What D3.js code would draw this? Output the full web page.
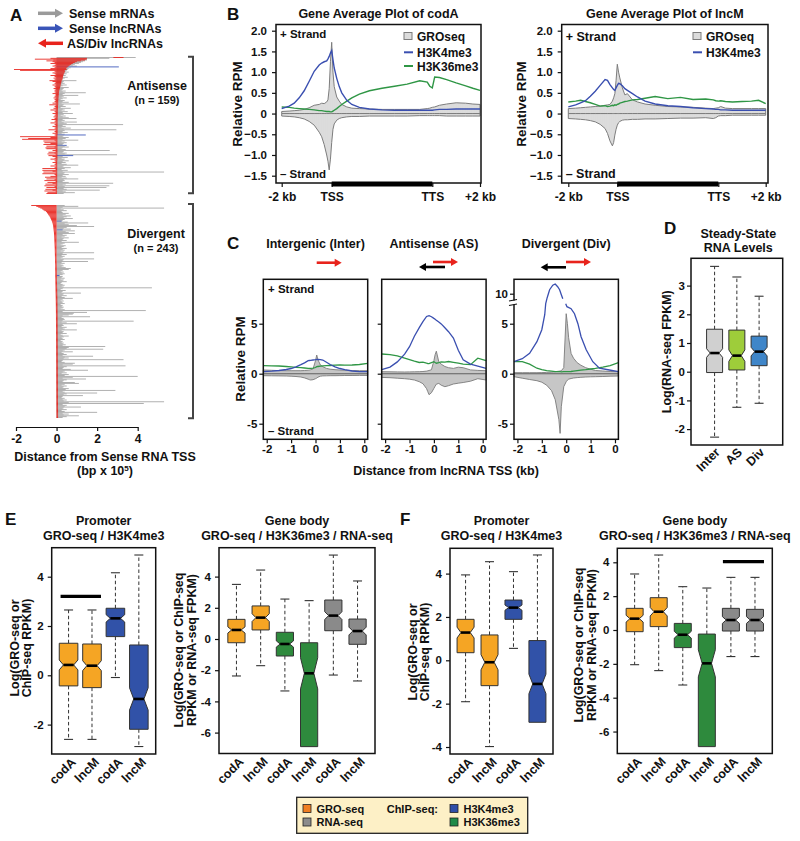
<!DOCTYPE html>
<html>
<head>
<meta charset="utf-8">
<script src="https://cdn.jsdelivr.net/npm/d3@7"></script>
<style>
body{margin:0;background:#fff}
text{font-family:"Liberation Sans",Arial,sans-serif;font-weight:bold;fill:#111}
</style>
</head>
<body>
<script>
// ---------- panel A data (x in bp x 10^5) ----------
var asSense = [3.9,2.6,1.5,1.5,1.4,1.3,1.2,1.1,0.9,0.8,
1.0,3.07,0.7,0.6,0.55,0.5,0.45,0.6,0.4,0.5,
0.35,0.45,0.3,0.55,0.4,0.3,0.25,0.98,0.35,0.3,
0.4,0.25,0.5,0.3,0.2,0.6,0.35,0.3,0.25,0.45,
0.3,1.44,0.4,0.3,1.07,0.35,0.25,0.5,0.3,0.2,
0.4,0.3,0.6,0.25,1.15,0.35,0.3,0.45,0.2,0.7,
0.3,0.4,0.25,0.55,0.3,0.8,0.35,0.2,0.45,0.3,
0.6,0.98,0.3,0.4,0.25,1.0,0.35,0.5,3.28,0.3,
0.45,0.25,0.7,0.35,2.95,0.4,0.3,0.55,0.25,0.4,
1.44,0.35,0.3,0.6,0.45,0.3,1.07,0.4,0.25,0.5,
0.35,0.3,0.5,0.4,0.6,0.3,0.25,0.45,2.62,0.35,
0.3,0.5,0.4,2.98,0.82,0.3,0.55,0.25,0.4,0.35,
0.6,0.3,0.45,0.25,0.5,1.07,0.35,0.3,0.7,0.4,
0.25,0.55,0.3,5.3,0.4,0.35,0.6,0.3,0.45,0.25,
0.5,1.07,0.35,0.4,0.3,0.6,2.79,0.45,0.3,2.6,
0.4,2.46,0.35,0.5,2.13,0.3,0.45,0.9,0.35];
var asBlueRows = [11,90,102,114];
var asRedR = [3.3,1.5,1.48,1.4,1.2,1.0,0.9,0.8,0.72,0.65,
0.6,0.55,0.5,0.47,0.5,0.4,0.42,0.4,0.38,0.36,
0.34,0.33,0.32,0.31,0.3,0.29,0.28,0.25,0.24,0.23,
0.22,0.21,0.2,0.19,0.18,0.17,0.16,0.15,0.13,0.13,
0.12,0.12,0.11,0.11,0.1,0.1,0.1,0.09,0.09,0.09,
0.08,0.08,0.08,0.08,0.08,0.08,0.07,0.07,0.07,0.07,
0.07,0.07,0.06,0.06,0.06,0.06,0.06,0.06,0.06,0.06,
0.05,0.05,0.05,0.05,0.05,0.05,0.05,0.05,0.05,0.05,
0.05,0.05,0.05,0.05,0.05,0.05,0.05,0.05,0.05,0.05,
0.04,0.04,0.04,0.04,0.04,0.04,0.04,0.04,0.04,0.04,
0.04,0.04,0.04,0.04,0.04,0.04,0.04,0.04,0.04,0.04,
0.04,0.04,0.04,0.04,0.04,0.04,0.04,0.04,0.04,0.04,
0.03,0.03,0.03,0.03,0.03,0.03,0.03,0.03,0.03,0.03,
0.03,0.03,0.03,0.03,0.03,0.03,0.03,0.03,0.03,0.03,
0.03,0.03,0.03,0.03,0.03,0.03,0.03,0.03,0.03,0.03,
0.02,0.02,0.02,0.02,0.02,0.02,0.02,0.02,0.02];
var asRedL = [2.8,-0.3,-1.07,-0.16,-0.5,-0.2,-0.1,-0.3,-0.05,-0.1,
-0.2,-0.05,-0.1,-0.3,-2.1,-1.8,-0.1,-0.05,-0.2,-0.1,
-0.05,-0.3,-0.1,-0.05,-0.15,-0.05,-0.1,-0.35,-0.2,-0.05,
-0.1,-0.05,-0.2,-0.05,-0.1,-0.05,-0.15,-0.05,-0.1,-0.05,
-0.1,-0.05,-0.2,-0.05,-0.05,-0.1,-0.05,-0.15,-0.05,-0.1,
-0.05,-0.1,-0.05,-0.2,-0.05,-0.36,-0.05,-0.1,-0.05,-0.15,
-0.05,-0.3,-0.05,-0.1,-0.05,-0.2,-0.05,-0.1,-0.05,-0.15,
-0.05,-0.1,-0.25,-0.05,-0.1,-0.05,-0.3,-0.05,-0.1,-0.05,
-0.2,-0.05,-0.1,-0.05,-0.4,-0.05,-0.1,-0.05,-0.2,-0.05,
-0.1,-0.05,-1.8,-0.3,-1.4,-1.7,-0.1,-0.65,-0.05,-0.6,
-0.3,-0.65,-0.05,-0.5,-0.1,-0.55,-0.5,-0.05,-0.2,-0.05,
-0.4,-0.1,-0.45,-0.05,-0.4,-0.2,-0.05,-0.1,-0.3,-0.05,
-0.1,-0.05,-0.2,-0.05,-0.1,-0.05,-0.3,-0.05,-0.1,-0.7,
-0.05,-0.7,-0.2,-0.65,-0.05,-0.7,-0.1,-0.05,-0.3,-0.57,
-0.05,-0.5,-0.1,-0.6,-0.05,-0.45,-0.2,-0.55,-0.05,-0.6,
-0.1,-0.5,-0.05,-0.55,-0.2,-0.6,-0.05,-0.45,-0.5];

var divSense = [0.4,1.07,0.3,5.3,0.2,0.35,0.5,0.25,0.3,0.6,
0.45,0.3,0.7,0.5,0.35,0.8,0.4,0.3,0.25,0.55,
1.56,0.4,0.6,1.0,1.85,0.5,0.35,0.7,0.3,0.9,
0.45,0.6,0.9,0.3,0.5,0.4,0.25,0.6,0.35,0.3,
0.5,0.25,1.1,0.4,0.3,0.2,0.45,0.35,0.25,0.5,
0.3,0.4,0.2,0.35,1.85,0.3,0.5,0.25,0.4,0.3,
0.2,1.85,0.35,0.3,1.55,0.25,0.4,0.2,0.3,0.35,
0.25,0.45,0.7,0.6,0.3,0.2,0.35,0.25,0.4,0.3,
0.15,0.3,0.25,0.4,0.2,0.35,0.3,0.5,0.25,0.2,
0.3,0.4,0.25,0.35,4.7,0.3,0.2,0.45,0.3,0.25,
1.2,0.35,0.3,0.5,0.25,0.4,0.8,0.3,0.2,0.35,
0.25,0.3,0.4,0.2,0.3,0.25,0.35,0.3,0.2,0.4,
4.4,0.3,1.5,0.85,0.8,0.6,0.3,1.65,0.25,0.35,
0.4,0.3,3.8,0.25,0.5,1.0,0.3,0.35,0.25,0.5,
0.3,0.4,1.0,0.25,0.35,0.3,0.5,0.2,0.3,0.6,
0.35,0.25,0.3,0.4,0.2,0.3,0.25,0.35,0.3,0.45,
0.3,2.4,0.6,0.5,2.3,0.4,0.3,0.8,0.25,0.35,
0.5,0.3,1.8,0.4,0.6,0.35,3.3,0.3,0.25,0.4,
0.9,0.8,0.3,3.4,0.5,0.35,0.3,0.7,1.55,0.4,
0.3,0.5,0.25,0.6,0.4,4.0,0.8,0.3,1.45,0.5,
0.35,0.3,0.9,1.1,0.4,0.25,0.5,0.35,0.3,0.6,
0.45,2.9,0.3,0.4,2.0,0.5,0.35,1.3,0.3,0.25,
0.4,0.3,0.5,0.35,5.3,0.6,4.3,0.3,0.5,0.4,
1.2,0.35,0.3,0.5,0.25,0.4,2.0,0.3,0.6,0.35,
1.1,0.5,0.3];
var divBlueRows = [18,28,80];
var divRed = [-1.25,-1.0,-0.9,-0.8,-0.72,-0.66,-0.6,-0.52,-0.48,-0.45,
-0.42,-0.39,-0.36,-0.33,-0.31,-0.29,-0.27,-0.25,-0.23,-0.22,
-0.2,-0.19,-0.18,-0.17,-0.165,-0.16,-0.155,-0.15,-0.145,-0.14,
-0.135,-0.13,-0.128,-0.125,-0.122,-0.12,-0.118,-0.115,-0.112,-0.11,
-0.108,-0.106,-0.104,-0.102,-0.1,-0.098,-0.096,-0.094,-0.092,-0.09,
-0.089,-0.088,-0.087,-0.086,-0.085,-0.084,-0.083,-0.082,-0.081,-0.08,
-0.079,-0.078,-0.077,-0.076,-0.075,-0.074,-0.073,-0.072,-0.071,-0.07,
-0.07,-0.069,-0.069,-0.068,-0.068,-0.067,-0.067,-0.066,-0.066,-0.065,
-0.065,-0.064,-0.063,-0.062,-0.061,-0.06,-0.06,-0.059,-0.058,-0.057,
-0.056,-0.055,-0.054,-0.053,-0.052,-0.051,-0.05,-0.05,-0.049,-0.048,
-0.047,-0.046,-0.045,-0.044,-0.043,-0.042,-0.041,-0.04,-0.04,-0.039,
-0.038,-0.038,-0.037,-0.036,-0.036,-0.035,-0.035,-0.034,-0.034,-0.033,
-0.033,-0.032,-0.032,-0.031,-0.031,-0.031,-0.03,-0.03,-0.03,-0.03,
-0.03,-0.029,-0.029,-0.029,-0.028,-0.028,-0.028,-0.027,-0.027,-0.027,
-0.026,-0.026,-0.026,-0.025,-0.025,-0.025,-0.025,-0.024,-0.024,-0.024,
-0.024,-0.023,-0.023,-0.023,-0.023,-0.022,-0.022,-0.022,-0.022,-0.021,
-0.021,-0.021,-0.021,-0.02,-0.02,-0.02,-0.02,-0.02,-0.019,-0.019,
-0.019,-0.019,-0.019,-0.018,-0.018,-0.018,-0.018,-0.018,-0.017,-0.017,
-0.017,-0.017,-0.017,-0.016,-0.016,-0.016,-0.016,-0.016,-0.015,-0.015,
-0.015,-0.015,-0.015,-0.014,-0.014,-0.014,-0.014,-0.014,-0.013,-0.013,
-0.013,-0.013,-0.013,-0.012,-0.012,-0.012,-0.012,-0.012,-0.011,-0.011,
-0.011,-0.011,-0.011,-0.01,-0.01,-0.01,-0.01,-0.01,-0.01,-0.01,
-0.009,-0.009,-0.009,-0.009,-0.009,-0.008,-0.008,-0.008,-0.008,-0.008,
-0.007,-0.007,-0.007,-0.007,-0.007,-0.006,-0.006,-0.006,-0.006,-0.006,
-0.005,-0.005,-0.005];
var aTicks = [-2,0,2,4];

// ---------- panel B data (bins: 0-20 upstream, 20-60 gene body, 60-80 downstream) ----------
var bPos = [0,3,5,7,9,11,13,15,16,17,18,18.5,19,19.5,20,20.5,21,22,23,24,26,28,31,35,40,45,50,55,58,59,60,61,63,66,70,74,77,80];
var bTickLabels = ['-2 kb','TSS','TTS','+2 kb'];
var bYTicks = [-1.5,-1,-0.5,0,0.5,1,1.5,2];
var codaGroP = [0.05,0.06,0.07,0.08,0.1,0.14,0.2,0.22,0.25,0.24,0.28,0.33,0.6,1.25,1.72,1.0,0.65,0.4,0.3,0.22,0.16,0.13,0.12,0.11,0.1,0.1,0.1,0.1,0.12,0.13,0.15,0.16,0.2,0.23,0.26,0.25,0.23,0.22];
var codaGroM = [-0.06,-0.07,-0.08,-0.1,-0.13,-0.19,-0.28,-0.45,-0.56,-0.75,-1.0,-1.15,-1.36,-1.1,-0.7,-0.38,-0.25,-0.16,-0.12,-0.1,-0.08,-0.07,-0.07,-0.06,-0.06,-0.06,-0.06,-0.05,-0.05,-0.05,-0.05,-0.05,-0.05,-0.06,-0.06,-0.06,-0.06,-0.06];
var codaK4 = [0.12,0.18,0.25,0.38,0.55,0.78,1.02,1.17,1.22,1.25,1.27,1.32,1.38,1.46,1.52,1.3,1.1,0.85,0.65,0.5,0.32,0.22,0.15,0.11,0.09,0.08,0.08,0.08,0.08,0.08,0.08,0.09,0.1,0.1,0.11,0.11,0.11,0.11];
var codaK36 = [0.16,0.15,0.13,0.12,0.11,0.1,0.09,0.07,0.07,0.06,0.05,0.05,0.05,0.04,0.04,0.06,0.08,0.12,0.17,0.22,0.3,0.38,0.47,0.55,0.61,0.66,0.71,0.79,0.76,0.66,0.62,0.88,0.87,0.82,0.74,0.67,0.61,0.56];
var lncmGroP = [0.12,0.13,0.14,0.15,0.16,0.17,0.18,0.2,0.21,0.22,0.3,0.38,0.48,0.8,1.19,1.0,0.86,0.62,0.45,0.48,0.33,0.28,0.23,0.2,0.17,0.16,0.15,0.13,0.12,0.13,0.14,0.17,0.13,0.12,0.12,0.12,0.12,0.12];
var lncmGroM = [-0.12,-0.13,-0.14,-0.15,-0.17,-0.2,-0.26,-0.36,-0.48,-0.66,-0.78,-0.7,-0.52,-0.38,-0.28,-0.22,-0.19,-0.16,-0.15,-0.15,-0.14,-0.14,-0.13,-0.13,-0.12,-0.11,-0.11,-0.1,-0.12,-0.1,-0.06,-0.05,-0.05,-0.04,-0.04,-0.04,-0.04,-0.04];
var lncmK4 = [0.16,0.21,0.26,0.31,0.42,0.54,0.68,0.82,0.8,0.7,0.62,0.58,0.56,0.62,0.68,0.73,0.72,0.67,0.6,0.56,0.48,0.4,0.3,0.23,0.19,0.17,0.14,0.12,0.11,0.1,0.1,0.09,0.09,0.08,0.08,0.08,0.08,0.08];
var lncmK36 = [0.28,0.3,0.32,0.29,0.26,0.22,0.18,0.19,0.17,0.18,0.2,0.19,0.21,0.2,0.22,0.23,0.25,0.27,0.29,0.3,0.33,0.34,0.37,0.41,0.36,0.39,0.34,0.35,0.33,0.31,0.3,0.31,0.29,0.28,0.29,0.3,0.32,0.24];

// ---------- panel C data (kb from lncRNA TSS) ----------
var cPos = [-2.14,-1.8,-1.5,-1.2,-1.0,-0.8,-0.6,-0.45,-0.3,-0.25,-0.2,-0.1,0,0.05,0.1,0.2,0.3,0.45,0.6,0.8,1.0,1.2,1.5,1.8,2.14];
var cXTicks = [-2,-1,0,1,2];
var cXLabels = ['-2','-1','0','1','0'];
var interK4 = [0.2,0.25,0.32,0.42,0.52,0.68,0.9,1.08,1.3,1.32,1.34,1.37,1.4,1.42,1.43,1.41,1.37,1.15,0.92,0.68,0.52,0.4,0.27,0.2,0.2];
var interK36 = [0.8,0.79,0.77,0.72,0.68,0.64,0.6,0.57,0.54,0.535,0.53,0.55,0.62,0.7,0.72,0.75,0.78,0.8,0.82,0.85,0.87,0.86,0.87,0.92,1.03];
var interGroP = [0.37,0.34,0.31,0.3,0.3,0.3,0.3,0.32,0.35,0.37,0.4,0.48,1.3,1.87,1.4,0.87,0.7,0.53,0.45,0.4,0.37,0.34,0.32,0.3,0.3];
var interGroM = [-0.2,-0.21,-0.22,-0.23,-0.25,-0.28,-0.33,-0.42,-0.55,-0.6,-0.63,-0.6,-0.5,-0.44,-0.35,-0.25,-0.22,-0.21,-0.2,-0.2,-0.19,-0.18,-0.18,-0.17,-0.17];
var asK4 = [0.4,0.66,1.18,1.95,2.7,3.75,4.6,5.2,5.72,5.77,5.8,5.7,5.53,5.45,5.35,5.17,4.98,4.6,4.2,3.56,2.35,1.4,0.96,0.75,0.53];
var asK36 = [1.97,1.9,1.78,1.55,1.4,1.25,1.12,1.15,1.05,1.02,1.0,1.1,1.2,1.12,1.05,1.1,1.18,1.15,1.22,1.13,1.05,0.95,0.9,1.55,1.3];
var asGroP = [0.2,0.19,0.18,0.17,0.18,0.19,0.2,0.22,0.26,0.29,0.32,0.4,1.3,1.9,2.25,1.2,0.95,0.72,0.6,0.53,0.65,0.6,0.38,0.33,0.3];
var asGroM = [-0.37,-0.4,-0.45,-0.5,-0.55,-0.63,-0.8,-1.0,-1.5,-1.8,-2.1,-1.9,-1.47,-1.25,-1.05,-0.97,-1.15,-1.3,-1.2,-1.03,-0.95,-0.88,-0.75,-0.5,-0.63];
var divK4X = [-2.14,-1.8,-1.5,-1.2,-1.0,-0.88,-0.84,-0.78,-0.68,-0.55,-0.45,-0.35,-0.27,-0.2,-0.14,-0.08,-0.02,0.03,0.2,0.34,0.48,0.61,0.82,1.09,1.36,1.77,2.14];
var divK4 = [1.2,1.5,2.03,3.2,4.4,5.9,7.0,9.6,10.4,10.85,10.97,10.7,10.4,9.9,9.5,8.0,7.0,6.7,6.5,6.0,5.0,3.7,2.4,1.2,0.55,0.37,0.2];
var divK36 = [1.2,1.2,0.95,0.55,0.4,0.3,0.25,0.2,0.2,0.2,0.19,0.2,0.2,0.2,0.2,0.22,0.25,0.3,0.35,0.4,0.47,0.53,0.65,0.8,1.1];
var divGroP = [0.1,0.1,0.1,0.1,0.11,0.13,0.16,0.2,0.25,0.27,0.3,0.6,6.0,5.0,3.6,2.03,1.55,1.1,0.85,0.6,0.45,0.32,0.27,0.22,0.2];
var divGroM = [-0.3,-0.45,-0.58,-0.7,-0.85,-1.15,-1.7,-2.6,-4.6,-5.97,-3.3,-1.3,-0.8,-0.65,-0.55,-0.48,-0.43,-0.39,-0.36,-0.33,-0.31,-0.3,-0.28,-0.25,-0.23];

// ---------- box plots: [low whisker, Q1, median, Q3, high whisker] ----------
var dCats = ['Inter','AS','Div'];
var dStats = [[-2.28,-0.03,0.65,1.48,3.67],[-1.24,0.06,0.56,1.45,3.3],[-1.1,0.21,0.7,1.24,2.63]];
var dNotch = [0.15,0.2,0.15];
var pairLabels = ['codA','lncM','codA','lncM'];
var bodyLabels = ['codA','lncM','codA','lncM','codA','lncM'];
var ePromStats = [[-2.6,-0.43,0.42,1.3,2.65],[-2.6,-0.5,0.39,1.27,2.65],[-0.09,1.57,2.31,2.72,4.16],[-2.89,-2.19,-0.96,1.23,4.88]];
var ePromNotch = [0.2,0.2,0.15,0.45];
var eBodyStats = [[-2.37,-0.24,0.58,1.26,3.5],[-1.71,0.58,1.37,2.12,4.42],[-3.33,-1.09,-0.32,0.43,2.56],[-6.9,-6.9,-2.2,-0.24,2.46],[-2.31,0.53,1.5,2.5,5.38],[-2.69,-0.34,0.51,1.28,3.72]];
var eBodyNotch = [0.2,0.25,0.2,1.0,0.25,0.25];
var fPromStats = [[-1.91,0.35,1.28,1.89,3.94],[-3.98,-1.17,-0.09,1.17,4.55],[0.55,1.89,2.43,2.78,4.09],[-2.86,-2.86,-1.09,0.91,4.86]];
var fPromNotch = [0.25,0.35,0.12,0.45];
var fBodyStats = [[-2.05,-0.1,0.67,1.28,3.31],[-2.4,0.2,1.08,1.91,4.43],[-3.25,-1.04,-0.28,0.39,2.56],[-6.89,-6.89,-1.97,-0.24,2.48],[-1.57,-0.06,0.59,1.28,3.11],[-1.57,-0.06,0.59,1.22,3.11]];
var fBodyNotch = [0.2,0.25,0.2,0.8,0.2,0.2];
var ePromSig = 3.2, fBodySig = 4.04;

// colours
var greyA = '#a6a6a6', blueA = '#3a55b8', redA = '#e8231c';
var k4col = '#3a4fb0', k36col = '#2f9645';
var orange = '#f5a524', boxBlue = '#3152a8', boxGreen = '#2e8a3d', boxGrey = '#8a8a8a';

var svg = d3.select('body').append('svg').attr('width',800).attr('height',841).style('display','block');
svg.append('rect').attr('width',800).attr('height',841).attr('fill','#fff');
var pat = svg.append('defs').append('pattern').attr('id','vhatch').attr('patternUnits','userSpaceOnUse').attr('width',1.8).attr('height',8);
pat.append('rect').attr('width',1.8).attr('height',8).attr('fill','#fff');
pat.append('line').attr('x1',0.9).attr('x2',0.9).attr('y1',0).attr('y2',8).attr('stroke','#8d8d8d').attr('stroke-width',0.6);

function label(x,y,s,size,anchor){
    return svg.append('text').attr('x',x).attr('y',y).attr('font-size',size).attr('text-anchor',anchor||'start').text(s);
}
function vlabel(x,y,s,size){
    return svg.append('text').attr('transform','translate('+x+','+y+') rotate(-90)').attr('font-size',size).attr('text-anchor','middle').text(s);
}
function arrow(x1,x2,y,col,w,hl,hw){
    var dir = x2 > x1 ? 1 : -1;
    svg.append('line').attr('x1',x1).attr('x2',x2-dir*hl*0.8).attr('y1',y).attr('y2',y).attr('stroke',col).attr('stroke-width',w);
    svg.append('path').attr('d','M'+x2+','+y+'L'+(x2-dir*hl)+','+(y-hw)+'L'+(x2-dir*hl)+','+(y+hw)+'Z').attr('fill',col);
}
function styleAxis(sel,size){
    sel.select('.domain').remove();
    sel.selectAll('line').attr('stroke','#111').attr('stroke-width',1.2);
    sel.selectAll('text').attr('font-size',size||11).attr('fill','#111');
}
function frame(x0,y0,x1,y1){
    svg.append('rect').attr('x',x0).attr('y',y0).attr('width',x1-x0).attr('height',y1-y0)
        .attr('fill','none').attr('stroke','#111').attr('stroke-width',1.5);
}
var intFmt = function(d){ return String(d); };

// ================= A =================
label(10,21,'A',17);
arrow(38,63,13.3,'#9a9a9a',3.5,8,4.5);
arrow(38,63,28.3,blueA,3.5,8,4.5);
arrow(63,38,43.3,redA,3.5,8,4.5);
label(69,17.5,'Sense mRNAs',12.5);
label(69,32.5,'Sense lncRNAs',12.5);
label(67,47.5,'AS/Div lncRNAs',12.5);

var ax = d3.scaleLinear().domain([-2,4]).range([16,137.7]);

function drawRows(sense, blueRows, redL, redR, y0, y1){
    var ry = d3.scaleLinear().domain([0,sense.length]).range([y0,y1]);
    var h = ry(1) - ry(0);
    var g = svg.append('g');
    g.selectAll('rect.s').data(sense).enter().append('rect')
        .attr('x',ax(0)).attr('y',function(d,i){return ry(i)})
        .attr('width',function(d){return ax(d)-ax(0)}).attr('height',h)
        .attr('fill',function(d,i){return blueRows.indexOf(i) >= 0 ? blueA : greyA});
    g.selectAll('rect.r').data(redL).enter().append('rect')
        .attr('x',function(d){return ax(d)}).attr('y',function(d,i){return ry(i)})
        .attr('width',function(d,i){
            var r = redR ? redR[i] : 0;
            return Math.max(ax(r)-ax(d),1.6)})
        .attr('height',h).attr('fill',redA);
}
drawRows(asSense, asBlueRows, asRedL, asRedR, 57, 194);
drawRows(divSense, divBlueRows, divRed, null, 205, 418);

function bracket(y0,y1){
    svg.append('path').attr('d','M188,'+y0+'H193V'+y1+'H188').attr('fill','none').attr('stroke','#444').attr('stroke-width',2);
}
bracket(56.7,193.3);
bracket(204,418.3);
label(157,89.5,'Antisense',12.5,'middle');
label(157,104,'(n = 159)',11,'middle');
label(156,237.5,'Divergent',12.5,'middle');
label(156,252,'(n = 243)',11,'middle');

var aAxis = svg.append('g').attr('transform','translate(0,427)')
    .call(d3.axisBottom(ax).tickValues(aTicks).tickFormat(intFmt).tickSize(4).tickSizeOuter(0).tickPadding(3));
aAxis.select('.domain').attr('stroke','#111').attr('stroke-width',1.2);
aAxis.selectAll('line').attr('stroke','#111').attr('stroke-width',1.2);
aAxis.selectAll('text').attr('font-size',12).attr('fill','#111');
label(105,461,'Distance from Sense RNA TSS',12.5,'middle');
var bp = label(105,475,'(bp x 10',12.5,'middle');
bp.append('tspan').attr('dy',-4).attr('font-size',8).text('5');
bp.append('tspan').attr('dy',4).text(')');

// ================= B =================
function geneAvg(o){
    var g = svg.append('g');
    var x = d3.scaleLinear().domain([0,20,60,80]).range(o.xpx);
    var y = d3.scaleLinear().domain([-1.5,2]).range([175.7,30.7]);
    var area = d3.area().x(function(d,i){return x(bPos[i])}).y0(y(0)).y1(function(d){return y(d)});
    var line = d3.line().x(function(d,i){return x(bPos[i])}).y(function(d){return y(d)});
    [o.plus,o.minus].forEach(function(s){
        g.append('path').attr('d',area(s)).attr('fill','url(#vhatch)').attr('stroke','#7d7d7d').attr('stroke-width',1);
    });
    g.append('path').attr('d',line(o.k36)).attr('fill','none').attr('stroke',k36col).attr('stroke-width',1.4);
    g.append('path').attr('d',line(o.k4)).attr('fill','none').attr('stroke',k4col).attr('stroke-width',1.4);
    frame(o.left,24.5,o.right,183);
    var ya = svg.append('g').attr('transform','translate('+o.left+',0)')
        .call(d3.axisLeft(y).tickValues(bYTicks).tickSize(4).tickPadding(5)
            .tickFormat(function(d){return d === 0 ? '0' : d3.format('.1f')(d)}));
    styleAxis(ya,11.5);
    var xa = svg.append('g').attr('transform','translate(0,183)')
        .call(d3.axisBottom(x).tickValues([0,20,60,80]).tickSize(4).tickPadding(5)
            .tickFormat(function(d,i){return bTickLabels[i]}));
    styleAxis(xa,12);
    svg.append('rect').attr('x',x(20)).attr('y',181.5).attr('width',x(60)-x(20)).attr('height',5).attr('fill','#000');
    label((o.left+o.right)/2,18,o.title,12.5,'middle');
    vlabel(o.ylabX,104,'Relative RPM',13.5);
    label(o.left+4,o.plusY,'+ Strand',o.strandSize);
    label(o.left+4,178,'\u2013 Strand',o.strandSize);
    // legend
    svg.append('rect').attr('x',o.legX).attr('y',32.5).attr('width',8).attr('height',7)
        .attr('fill','url(#vhatch)').attr('stroke','#7d7d7d').attr('stroke-width',1);
    label(o.legX+13,41,'GROseq',12);
    svg.append('line').attr('x1',o.legX).attr('x2',o.legX+9).attr('y1',52.3).attr('y2',52.3).attr('stroke',k4col).attr('stroke-width',2);
    label(o.legX+13,56.5,'H3K4me3',12);
    if (o.k36Legend) {
        svg.append('line').attr('x1',o.legX).attr('x2',o.legX+9).attr('y1',66).attr('y2',66).attr('stroke',k36col).attr('stroke-width',2);
        label(o.legX+13,70.5,'H3K36me3',12);
    }
}
label(227,20,'B',17);
geneAvg({left:276,right:481,xpx:[281.7,331.7,432.3,480],plus:codaGroP,minus:codaGroM,k4:codaK4,k36:codaK36,k36Legend:true,
    title:'Gene Average Plot of codA',ylabX:241.5,plusY:38,strandSize:11.5,legX:404});
geneAvg({left:561.7,right:768,xpx:[568.3,617.3,718.3,765.7],plus:lncmGroP,minus:lncmGroM,k4:lncmK4,k36:lncmK36,k36Legend:false,
    title:'Gene Average Plot of lncM',ylabX:526,plusY:41,strandSize:12.5,legX:693});

// ================= C =================
label(227,249,'C',17);
var cY = d3.scaleLinear().domain([-6.56,9.44]).range([439.3,279.3]);
var brkShift = 2;
function yBroken(v){ return v <= 7.05 ? cY(v) : cY(v - brkShift); }
var cPanels = [
    {title:'Intergenic (Inter)', left:263.3, plus:interGroP, minus:interGroM, k4:interK4, k36:interK36, yTicks:[-5,0,5], yLab:true},
    {title:'Antisense (AS)', left:381.7, plus:asGroP, minus:asGroM, k4:asK4, k36:asK36, yTicks:[-5,0,5], yLab:false},
    {title:'Divergent (Div)', left:514, plus:divGroP, minus:divGroM, k4:divK4, k4x:divK4X, k36:divK36, yTicks:[-5,0,5,10], yLab:true, brk:true}
];
cPanels.forEach(function(p){
    var right = p.left + 104.4;
    var x = d3.scaleLinear().domain([-2.14,2.14]).range([p.left,right]);
    var g = svg.append('g');
    var area = d3.area().x(function(d,i){return x(cPos[i])}).y0(cY(0)).y1(function(d){return cY(d)});
    var line = d3.line().x(function(d,i){return x(cPos[i])}).y(function(d){return cY(d)});
    [p.plus,p.minus].forEach(function(s){
        g.append('path').attr('d',area(s)).attr('fill','#c6c6c6').attr('stroke','#7a7a7a').attr('stroke-width',0.9);
    });
    g.append('line').attr('x1',p.left).attr('x2',right).attr('y1',cY(0)).attr('y2',cY(0)).attr('stroke','#777').attr('stroke-width',1);
    g.append('path').attr('d',line(p.k36)).attr('fill','none').attr('stroke',k36col).attr('stroke-width',1.3);
    if (p.k4x) {
        var bl = d3.line().defined(function(d){return d <= 7.05 || d >= 9.3})
            .x(function(d,i){return x(p.k4x[i])}).y(function(d){return yBroken(d)});
        g.append('path').attr('d',bl(p.k4)).attr('fill','none').attr('stroke',k4col).attr('stroke-width',1.3);
    } else {
        g.append('path').attr('d',line(p.k4)).attr('fill','none').attr('stroke',k4col).attr('stroke-width',1.3);
    }
    frame(p.left,279.3,right,439.3);
    var ya = svg.append('g').attr('transform','translate('+p.left+',0)')
        .call(d3.axisLeft(cY)
            .tickValues(p.yTicks.map(function(v){return v > 7 ? v - brkShift : v}))
            .tickSize(4).tickPadding(2)
            .tickFormat(function(d){ if (!p.yLab) return ''; return p.brk && d > 5 ? String(d + brkShift) : String(d); }));
    styleAxis(ya,11.5);
    if (p.brk) {
        svg.append('rect').attr('x',p.left-3).attr('y',300.5).attr('width',6).attr('height',4).attr('fill','#fff');
        svg.append('line').attr('x1',p.left-5).attr('x2',p.left+3).attr('y1',301).attr('y2',299.5).attr('stroke','#111').attr('stroke-width',1.2);
        svg.append('line').attr('x1',p.left-5).attr('x2',p.left+3).attr('y1',305.5).attr('y2',304).attr('stroke','#111').attr('stroke-width',1.2);
    }
    var xa = svg.append('g').attr('transform','translate(0,439.3)')
        .call(d3.axisBottom(x).tickValues(cXTicks).tickSize(4).tickPadding(2)
            .tickFormat(function(d,i){return cXLabels[i]}));
    styleAxis(xa,11.5);
    label((p.left+right)/2,247.5,p.title,12.5,'middle');
});
label(268,293,'+ Strand',11.5);
label(268,434.5,'\u2013 Strand',11.5);
vlabel(244.5,359,'Relative RPM',13.5);
label(446,474.5,'Distance from lncRNA TSS (kb)',12.5,'middle');
arrow(316.7,341.7,262.7,redA,2.6,7,4);
arrow(445,419,267,'#000',2.6,7,4);
arrow(433,458,262,redA,2.6,7,4);
arrow(566,540.7,267.3,'#000',2.6,7,4);
arrow(566,591,262,redA,2.6,7,4);

// ================= box plot helpers =================
function drawBox(g, cx, hw, s, nh, y, col){
    var k = hw*0.45;
    var p = [[cx-hw,y(s[3])],[cx+hw,y(s[3])],[cx+hw,y(s[2]+nh)],[cx+hw-k,y(s[2])],[cx+hw,y(s[2]-nh)],
             [cx+hw,y(s[1])],[cx-hw,y(s[1])],[cx-hw,y(s[2]-nh)],[cx-hw+k,y(s[2])],[cx-hw,y(s[2]+nh)]];
    var cap = 4.5;
    g.append('line').attr('x1',cx).attr('x2',cx).attr('y1',y(s[3])).attr('y2',y(s[4]))
        .attr('stroke','#333').attr('stroke-width',1).attr('stroke-dasharray','3.5,2.5');
    g.append('line').attr('x1',cx-cap).attr('x2',cx+cap).attr('y1',y(s[4])).attr('y2',y(s[4])).attr('stroke','#333').attr('stroke-width',1.1);
    if (s[0] < s[1] - 0.01) {
        g.append('line').attr('x1',cx).attr('x2',cx).attr('y1',y(s[1])).attr('y2',y(s[0]))
            .attr('stroke','#333').attr('stroke-width',1).attr('stroke-dasharray','3.5,2.5');
        g.append('line').attr('x1',cx-cap).attr('x2',cx+cap).attr('y1',y(s[0])).attr('y2',y(s[0])).attr('stroke','#333').attr('stroke-width',1.1);
    }
    g.append('path').attr('d',d3.line()(p)+'Z').attr('fill',col).attr('stroke','#333').attr('stroke-width',1);
    g.append('line').attr('x1',cx-hw+k).attr('x2',cx+hw-k).attr('y1',y(s[2])).attr('y2',y(s[2])).attr('stroke','#000').attr('stroke-width',2.6);
}
function boxPanel(o){
    var g = svg.append('g');
    var y = d3.scaleLinear().domain(o.yd).range(o.yr);
    var x = d3.scalePoint().domain(d3.range(o.stats.length)).range([o.x0,o.x1]).padding(o.pad);
    frame(o.x0,o.y0,o.x1,o.y1);
    var ya = svg.append('g').attr('transform','translate('+o.x0+',0)')
        .call(d3.axisLeft(y).tickValues(o.ticks).tickFormat(intFmt).tickSize(4).tickPadding(o.tpad || 4));
    styleAxis(ya,11.5);
    o.stats.forEach(function(s,i){ drawBox(g, x(i), o.hw, s, o.notch[i], y, o.colors[i]); });
    o.labels.forEach(function(t,i){
        svg.append('text').attr('transform','translate('+(x(i)+o.lx)+','+(o.y1+o.ly)+') rotate(-45)')
            .attr('font-size',12.5).attr('text-anchor','end').text(t);
    });
    if (o.sig) svg.append('line').attr('x1',x(o.sig[0])-8).attr('x2',x(o.sig[1])+9).attr('y1',y(o.sig[2])).attr('y2',y(o.sig[2]))
        .attr('stroke','#000').attr('stroke-width',3.2);
}

// ================= D =================
label(664,234,'D',17);
label(738.3,237.5,'Steady-State',12.5,'middle');
label(738.3,252,'RNA Levels',12.5,'middle');
boxPanel({x0:691,x1:782.7,y0:258.3,y1:445,yd:[0,3],yr:[371.7,285.6],ticks:[-2,-1,0,1,2,3],tpad:2,
    pad:1.06,hw:8,stats:dStats,notch:dNotch,colors:['#d0d0d0','#9ecd3a','#3f86c9'],labels:dCats,lx:6,ly:8});
vlabel(671,351.7,'Log(RNA-seq FPKM)',12.5);

// ================= E =================
label(5,525,'E',17);
label(103.7,525,'Promoter',12.5,'middle');
label(103.7,539.5,'GRO-seq / H3K4me3',12.5,'middle');
boxPanel({x0:51.7,x1:155.7,y0:547.7,y1:754,yd:[0,4],yr:[675.3,576.7],ticks:[-2,0,2,4],
    pad:0.72,hw:9.3,stats:ePromStats,notch:ePromNotch,colors:[orange,orange,boxBlue,boxBlue],labels:pairLabels,lx:8,ly:9,sig:[0,1,ePromSig]});
vlabel(19,648,'Log(GRO-seq or',12.5);
vlabel(31,648,'ChIP-seq RPKM)',12.5);

label(297,525,'Gene body',12.5,'middle');
label(297,539.5,'GRO-seq / H3K36me3 / RNA-seq',12.5,'middle');
boxPanel({x0:219,x1:375,y0:547.7,y1:753.5,yd:[0,-6],yr:[639,732.6],ticks:[-6,-4,-2,0,2,4],
    pad:0.72,hw:8.6,stats:eBodyStats,notch:eBodyNotch,colors:[orange,orange,boxGreen,boxGreen,boxGrey,boxGrey],labels:bodyLabels,lx:8,ly:9});
vlabel(182.5,650,'Log(GRO-seq or ChIP-seq',12.5);
vlabel(196,650,'RPKM or RNA-seq FPKM)',12.5);

// ================= F =================
label(400,525,'F',17);
label(501.5,525,'Promoter',12.5,'middle');
label(501.5,539.5,'GRO-seq / H3K4me3',12.5,'middle');
boxPanel({x0:450,x1:553,y0:548.3,y1:754,yd:[0,4],yr:[660.3,573.6],ticks:[-4,-2,0,2,4],
    pad:0.65,hw:8.5,stats:fPromStats,notch:fPromNotch,colors:[orange,orange,boxBlue,boxBlue],labels:pairLabels,lx:8,ly:9});
vlabel(417,652,'Log(GRO-seq or',12.5);
vlabel(429,652,'ChIP-seq RPKM)',12.5);

label(694.8,525,'Gene body',12.5,'middle');
label(694.8,539.5,'GRO-seq / H3K36me3 / RNA-seq',12.5,'middle');
boxPanel({x0:617.3,x1:772.3,y0:548.3,y1:753.5,yd:[0,4],yr:[630,562.3],ticks:[-6,-4,-2,0,2,4],
    pad:0.72,hw:8.5,stats:fBodyStats,notch:fBodyNotch,colors:[orange,orange,boxGreen,boxGreen,boxGrey,boxGrey],labels:bodyLabels,lx:8,ly:9,sig:[4,5,fBodySig]});
vlabel(582.5,645,'Log(GRO-seq or ChIP-seq',12.5);
vlabel(596,645,'RPKM or RNA-seq FPKM)',12.5);

// ================= bottom legend =================
svg.append('rect').attr('x',296.7).attr('y',797.3).attr('width',231).attr('height',36)
    .attr('fill','#fdf0c6').attr('stroke','#222').attr('stroke-width',1.3);
var legItems = [
    {x:303, y:804.5, col:'#f07e22', t:'GRO-seq'},
    {x:303, y:818, col:'#8c8c8c', t:'RNA-seq'},
    {x:450, y:804.5, col:'#2f4ea8', t:'H3K4me3'},
    {x:450, y:818, col:'#1f8a48', t:'H3K36me3'}
];
legItems.forEach(function(d){
    svg.append('rect').attr('x',d.x).attr('y',d.y).attr('width',8).attr('height',8).attr('fill',d.col).attr('stroke','#222').attr('stroke-width',0.8);
    label(d.x+13.5,d.y+8,d.t,11);
});
label(386.7,812.5,'ChIP-seq:',11);
</script>
</body>
</html>
